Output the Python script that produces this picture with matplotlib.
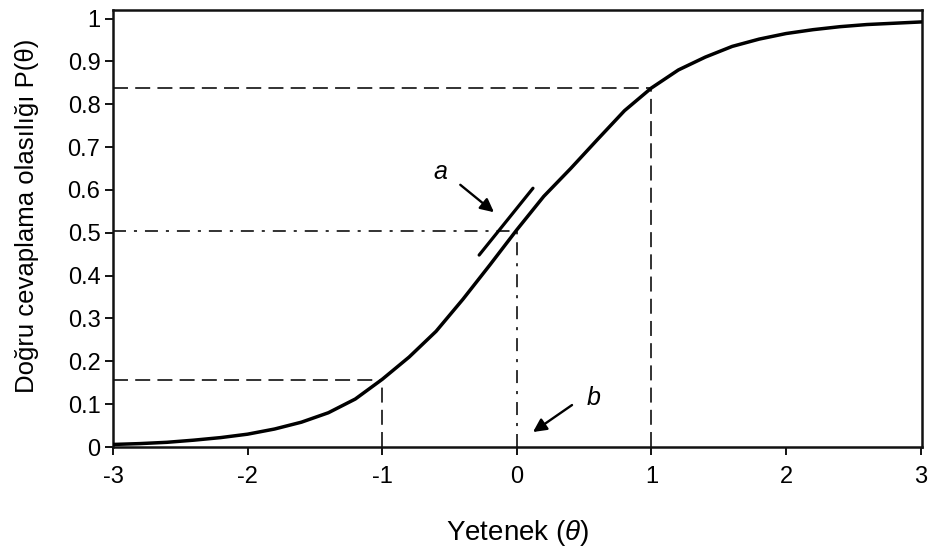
import numpy as np
import matplotlib
matplotlib.use("Agg")
import matplotlib.pyplot as plt

plt.rcParams['font.family'] = ['Liberation Sans', 'DejaVu Sans']
plt.rcParams['mathtext.fontset'] = 'custom'
plt.rcParams['mathtext.it'] = 'Liberation Sans:italic'
plt.rcParams['mathtext.rm'] = 'Liberation Sans'

# item characteristic curve, read point by point
theta = [-3.0, -2.8, -2.6, -2.4, -2.2, -2.0, -1.8, -1.6, -1.4, -1.2, -1.0,
         -0.8, -0.6, -0.4, -0.2, 0.0, 0.2, 0.4, 0.6, 0.8, 1.0,
         1.2, 1.4, 1.6, 1.8, 2.0, 2.2, 2.4, 2.6, 2.8, 3.0]
prob = [0.006, 0.008, 0.011, 0.016, 0.022, 0.030, 0.042, 0.058, 0.080, 0.112, 0.158,
        0.210, 0.270, 0.345, 0.425, 0.507, 0.585, 0.650, 0.718, 0.785, 0.838,
        0.880, 0.910, 0.935, 0.952, 0.965, 0.974, 0.981, 0.986, 0.989, 0.992]

# reference guides: (theta, P) pairs
low_pt = (-1.0, 0.157)
mid_pt = (0.0, 0.505)
high_pt = (1.0, 0.838)

# slope marker (a) drawn beside the curve
tan_x = [-0.28, 0.12]
tan_y = [0.448, 0.604]

yticks = [0, 0.1, 0.2, 0.3, 0.4, 0.5, 0.6, 0.7, 0.8, 0.9, 1]
xticks = [-3, -2, -1, 0, 1, 2, 3]

fig = plt.figure(figsize=(9.29, 5.51), dpi=100)
ax = fig.add_axes([0.1216, 0.1887, 0.8709, 0.7932])

ax.plot(theta, prob, color='black', linewidth=2.5, solid_joinstyle='round', zorder=5)

dash = dict(color='#222222', linewidth=1.3, dashes=(8.3, 4))
for px, py in (low_pt, high_pt):
    ax.plot([-3, px], [py, py], **dash)
    ax.plot([px, px], [0, py], **dash)

dashdot = dict(color='#222222', linewidth=1.3, dashes=(7.2, 4.4, 1.7, 4.4))
ax.plot([-3, mid_pt[0]], [mid_pt[1], mid_pt[1]], **dashdot)
ax.plot([mid_pt[0], mid_pt[0]], [0, mid_pt[1]], **dashdot)

ax.plot(tan_x, tan_y, color='black', linewidth=2.3, solid_capstyle='round')

ax.annotate('', xy=(-0.17, 0.548), xytext=(-0.42, 0.612),
            arrowprops=dict(arrowstyle='-|>', color='black', lw=1.7,
                            mutation_scale=20, shrinkA=0, shrinkB=0))
ax.text(-0.57, 0.641, 'a', fontsize=18, style='italic', ha='center', va='center')

ax.annotate('', xy=(0.12, 0.035), xytext=(0.41, 0.098),
            arrowprops=dict(arrowstyle='-|>', color='black', lw=1.7,
                            mutation_scale=20, shrinkA=0, shrinkB=0))
ax.text(0.57, 0.114, 'b', fontsize=18, style='italic', ha='center', va='center')

ax.set_xlim(-3, 3.01)
ax.set_ylim(0, 1.02)
ax.set_xticks(xticks)
ax.set_xticklabels([str(t) for t in xticks])
ax.set_yticks(yticks)
ax.set_yticklabels([('%g' % t) for t in yticks])
ax.tick_params(axis='both', direction='out', length=6, width=1.3, labelsize=17)
ax.tick_params(axis='x', pad=8)
ax.tick_params(axis='y', pad=3)

for s in ax.spines.values():
    s.set_linewidth(1.8)
    s.set_color('#111111')

ax.set_xlabel('Yetenek ($\\mathit{\\theta}$)', fontsize=20, va='top')
ax.xaxis.set_label_coords(0.5, -0.162)
ax.set_ylabel('Doğru cevaplama olasılığı P(θ)', fontsize=18.5, va='bottom')
ax.yaxis.set_label_coords(-0.092, 0.53)

plt.savefig('out.png', dpi=100)
